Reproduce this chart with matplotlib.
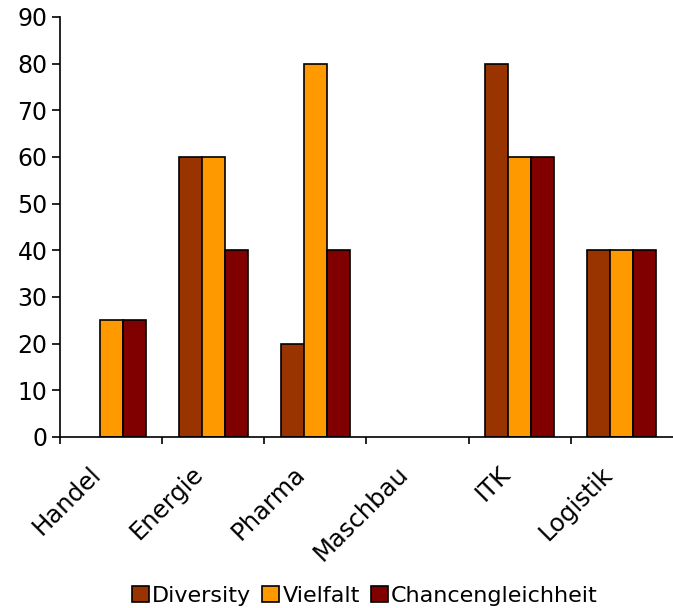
import matplotlib
matplotlib.use("Agg")
import matplotlib.pyplot as plt
import matplotlib.transforms as mtransforms
import numpy as np

categories = ["Handel", "Energie", "Pharma", "Maschbau", "ITK", "Logistik"]
diversity = [0, 60, 20, 0, 80, 40]
vielfalt = [25, 60, 80, 0, 60, 40]
chancen = [25, 40, 40, 0, 60, 40]
series_names = ["Diversity", "Vielfalt", "Chancengleichheit"]
colors = ["#993300", "#FF9900", "#800000"]
yticks = [0, 10, 20, 30, 40, 50, 60, 70, 80, 90]

plt.rcParams['font.family'] = ['DejaVu Sans']
FS = 16

fig = plt.figure(figsize=(6.73, 6.08), dpi=100)
ax = fig.add_axes([60/673, (608-437)/608, 613/673, 420/608])

x = np.arange(len(categories))
w = 0.225
for i, (vals, name, c) in enumerate(zip([diversity, vielfalt, chancen], series_names, colors)):
    v = np.array(vals, dtype=float)
    mask = v > 0
    ax.bar(x[mask] + (i - 1) * w, v[mask], width=w, color=c, edgecolor="black",
           linewidth=1.2, label=name)

ax.set_xlim(-0.5, len(categories) - 0.5)
ax.set_ylim(0, 90)
ax.set_yticks(yticks)
ax.tick_params(axis='y', labelsize=17, length=6, width=1.2, direction='out', pad=3)
ax.set_xticks(np.arange(len(categories)) - 0.5)
ax.set_xticklabels([])
ax.tick_params(axis='x', which='major', length=5, width=1.2, direction='out')

offset = mtransforms.ScaledTranslation(-22/100, -25/100, fig.dpi_scale_trans)
for xi, cat in zip(x, categories):
    ax.text(xi, 0, cat, transform=ax.get_xaxis_transform() + offset,
            rotation=45, ha='right', va='top', rotation_mode='anchor',
            fontsize=17.5, clip_on=False)

for s in ['top', 'right']:
    ax.spines[s].set_visible(False)
for s in ['left', 'bottom']:
    ax.spines[s].set_linewidth(1.2)

leg = fig.legend(loc='center', bbox_to_anchor=(365/673, 1 - 596/608), ncol=3, frameon=False,
                 fontsize=FS, handlelength=0.75, handleheight=0.75, handletextpad=0.15,
                 columnspacing=0.5, borderaxespad=0)

fig.savefig("out.png", dpi=100)
